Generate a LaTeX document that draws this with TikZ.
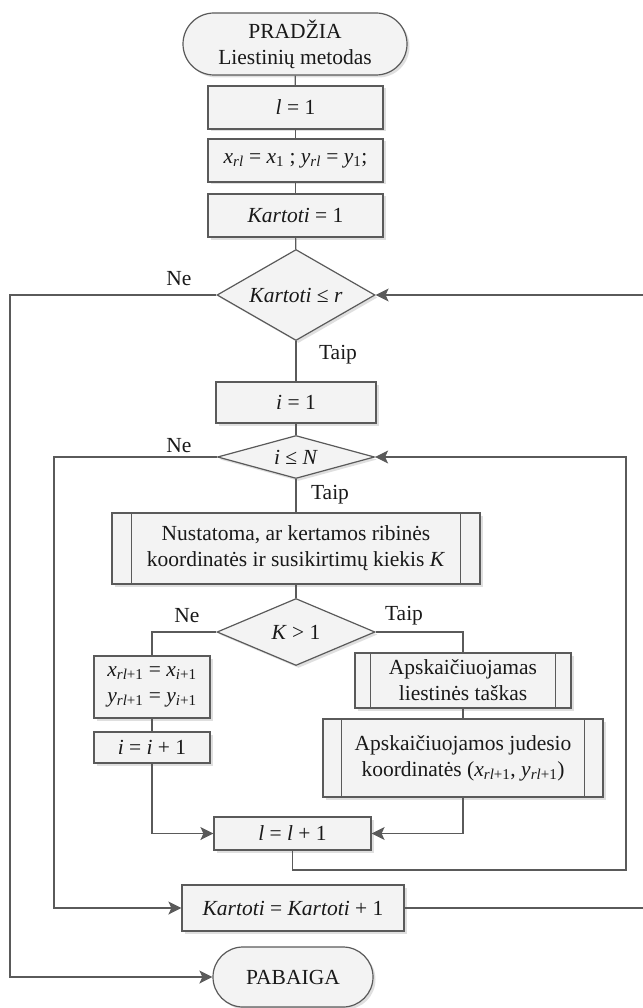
\documentclass[tikz,border=0pt]{standalone}
\usepackage{fontspec}
\setmainfont{Liberation Serif}
\usetikzlibrary{shapes.geometric,shapes.misc,arrows.meta,shadows}
\definecolor{ln}{HTML}{5A5A5A}
\definecolor{bx}{HTML}{F3F3F3}
\newcommand{\vi}[1]{\textit{#1}}
\newcommand{\sbs}[1]{\textsubscript{#1}}
\begin{document}
\begin{tikzpicture}[x=1pt,y=-1pt,
  font=\fontsize{21.5}{26}\selectfont,
  base/.style={draw=ln, line width=1.2pt, fill=bx, text=black!90, inner sep=0pt, align=center,
    drop shadow={shadow xshift=2.5pt,shadow yshift=-2.5pt,fill=black!25,opacity=0.5}},
  proc/.style={base, rectangle},
  term/.style={base, rounded rectangle},
  dec/.style={base, diamond},
  con/.style={draw=ln, line width=1.2pt},
  arr/.style={con, -{Stealth[length=13pt,width=13pt,inset=3pt]}},
  lab/.style={inner sep=0pt, text=black!90}
]
\useasboundingbox (0,0) rectangle (642,1008);

% nodes
\node[term, minimum width=224, minimum height=62] (start) at (295,44) {PRADŽIA\\Liestinių metodas};
\node[proc, minimum width=175, minimum height=43] (l1) at (295.5,107.5) {\vi{l} = 1};
\node[proc, minimum width=175, minimum height=43] (xr) at (295.5,160.5) {\vi{x}\sbs{\vi{rl}} = \vi{x}\sbs{1} ; \vi{y}\sbs{\vi{rl}} = \vi{y}\sbs{1};};
\node[proc, minimum width=175, minimum height=43] (k1) at (295.5,215.5) {\vi{Kartoti} = 1};
\node[dec, minimum width=158, minimum height=91, aspect=1.74] (d1) at (296,295) {\vi{Kartoti} ≤ \vi{r}};
\node[proc, minimum width=160, minimum height=41] (i1) at (296,402.5) {\vi{i} = 1};
\node[dec, minimum width=157, minimum height=43, aspect=3.65] (d2) at (296,457) {\vi{i} ≤ \vi{N}};
\node[proc, minimum width=368, minimum height=71] (nus) at (296,548.5) {Nustatoma, ar kertamos ribinės\\koordinatės ir susikirtimų kiekis \vi{K}};
\node[dec, minimum width=158, minimum height=67, aspect=2.36] (d3) at (296,632) {\vi{K} > 1};
\node[proc, minimum width=116, minimum height=62] (xr1) at (152,687) {\vi{x}\sbs{\vi{rl}+1} = \vi{x}\sbs{\vi{i}+1}\\\vi{y}\sbs{\vi{rl}+1} = \vi{y}\sbs{\vi{i}+1}};
\node[proc, minimum width=116, minimum height=31] (ii) at (152,747.5) {\vi{i} = \vi{i} + 1};
\node[proc, minimum width=216, minimum height=55] (s1) at (463,680.5) {Apskaičiuojamas\\liestinės taškas};
\node[proc, minimum width=280, minimum height=78] (s2) at (463,758) {Apskaičiuojamos judesio\\koordinatės (\vi{x}\sbs{\vi{rl}+1}, \vi{y}\sbs{\vi{rl}+1})};
\node[proc, minimum width=157, minimum height=33] (ll) at (292.5,833.5) {\vi{l} = \vi{l} + 1};
\node[proc, minimum width=222, minimum height=46] (kk) at (293,908) {\vi{Kartoti} = \vi{Kartoti} + 1};
\node[term, minimum width=160, minimum height=60] (end) at (293,977) {PABAIGA};

% subprocess inner lines
\draw[con] ([xshift=20pt]nus.north west) -- ([xshift=20pt]nus.south west);
\draw[con] ([xshift=-20pt]nus.north east) -- ([xshift=-20pt]nus.south east);
\draw[con] ([xshift=16pt]s1.north west) -- ([xshift=16pt]s1.south west);
\draw[con] ([xshift=-16pt]s1.north east) -- ([xshift=-16pt]s1.south east);
\draw[con] ([xshift=19pt]s2.north west) -- ([xshift=19pt]s2.south west);
\draw[con] ([xshift=-19pt]s2.north east) -- ([xshift=-19pt]s2.south east);

% labels
\node[lab] (ne1) at (179,279) {Ne};
\node[lab] (ta1) at (338,355) {Taip};
\node[lab] (ne2) at (179,446) {Ne};
\node[lab] (ta2) at (330,495) {Taip};
\node[lab] (ne3) at (187,616) {Ne};
\node[lab] (ta3) at (404,616) {Taip};

% coordinates
\coordinate (r2) at (626,870);
\coordinate (lft2) at (54,908);
\coordinate (r1) at (645,908);
\coordinate (lft1) at (10,977);

% connectors
\draw[con] (start) -- (l1);
\draw[con] (l1) -- (xr);
\draw[con] (xr) -- (k1);
\draw[con] (k1) -- (d1);
\draw[con] (d1) -- (i1);
\draw[con] (i1) -- (d2);
\draw[con] (d2) -- (nus);
\draw[con] (nus) -- (d3);
\draw[con] (d3.west) -| (xr1.north);
\draw[con] (d3.east) -| (s1.north);
\draw[con] (xr1) -- (ii);
\draw[con] (s1) -- (s2);
\draw[arr] (ii.south) |- (ll.west);
\draw[arr] (s2.south) |- (ll.east);
\draw[arr] (ll.south) |- (r2) |- (d2.east);
\draw[arr] (d2.west) -| (lft2) -- (kk.west);
\draw[arr] (kk.east) -- (r1) |- (d1.east);
\draw[arr] (d1.west) -| (lft1) -- (end.west);
\end{tikzpicture}
\end{document}
